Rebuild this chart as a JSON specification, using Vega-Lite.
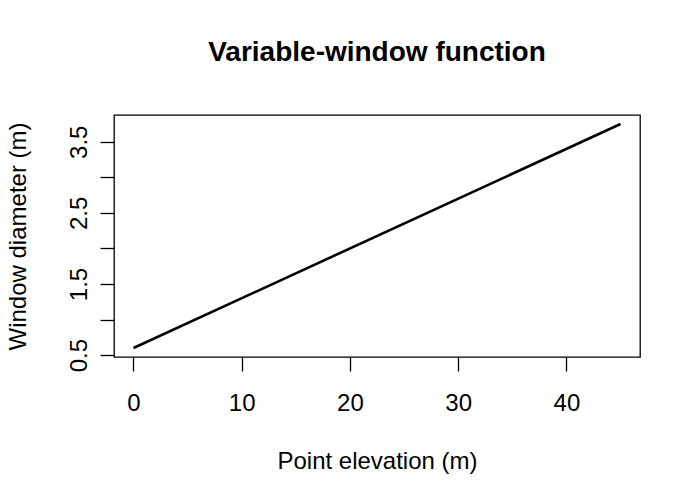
{
  "$schema": "https://vega.github.io/schema/vega-lite/v6.json",
  "background": "white",
  "autosize": {"type": "none"},
  "padding": {"left": 114, "top": 115, "right": 60, "bottom": 143},
  "width": 526,
  "height": 242,
  "title": {
    "text": "Variable-window function",
    "font": "Liberation Sans",
    "fontSize": 28,
    "fontWeight": "bold",
    "color": "black",
    "anchor": "middle",
    "frame": "group",
    "baseline": "alphabetic",
    "offset": 26
  },
  "data": {
    "values": [
      {"elevation": 0, "diameter": 0.6},
      {"elevation": 45, "diameter": 3.75}
    ]
  },
  "mark": {"type": "line", "color": "black", "strokeWidth": 2.6},
  "encoding": {
    "x": {
      "field": "elevation",
      "type": "quantitative",
      "title": "Point elevation (m)",
      "scale": {"domain": [-1.8, 46.8], "nice": false, "zero": false},
      "axis": {
        "values": [0, 10, 20, 30, 40],
        "labelPadding": 20,
        "titlePadding": 34
      }
    },
    "y": {
      "field": "diameter",
      "type": "quantitative",
      "title": "Window diameter (m)",
      "scale": {"domain": [0.474, 3.876], "nice": false, "zero": false},
      "axis": {
        "values": [0.5, 1, 1.5, 2, 2.5, 3, 3.5],
        "labelExpr": "datum.value % 1 === 0 ? '' : format(datum.value, '.1f')",
        "labelAngle": -90,
        "labelAlign": "center",
        "labelBaseline": "alphabetic",
        "labelPadding": 14,
        "titleBaseline": "alphabetic",
        "titlePadding": 42
      }
    }
  },
  "config": {
    "view": {"stroke": "black", "strokeWidth": 1.3},
    "axis": {
      "domain": false,
      "grid": false,
      "ticks": true,
      "tickSize": 14,
      "tickColor": "black",
      "tickWidth": 1.3,
      "labelFont": "Liberation Sans",
      "labelFontSize": 24,
      "labelColor": "black",
      "labelOverlap": false,
      "labelFlush": false,
      "titleFont": "Liberation Sans",
      "titleFontSize": 24,
      "titleFontWeight": "normal",
      "titleColor": "black"
    }
  }
}
